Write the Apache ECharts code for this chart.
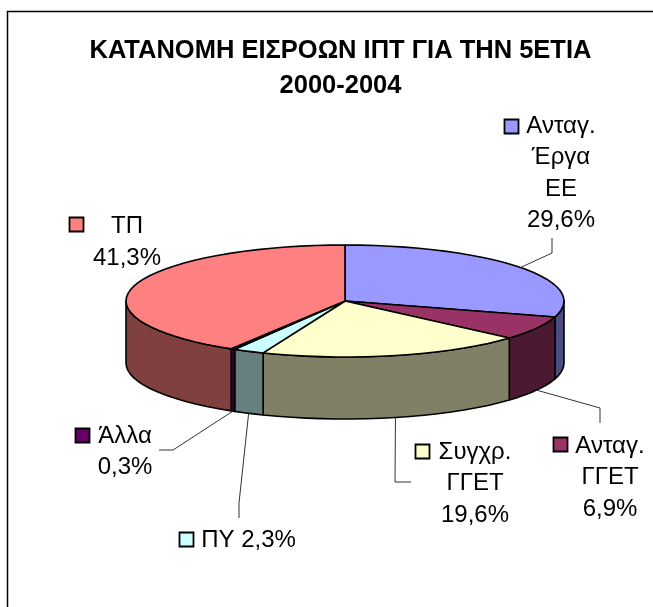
<!DOCTYPE html>
<html>
<head>
<meta charset="utf-8">
<style>html,body{margin:0;padding:0;background:#fff}#c{width:653px;height:607px}</style>
<script src="https://cdn.jsdelivr.net/npm/echarts@6/dist/echarts.min.js"></script>
</head>
<body>
<div id="c"></div>
<script>
// DATA
const categories = ['Ανταγ.\nΈργα\nΕΕ', 'Ανταγ.\nΓΓΕΤ', 'Συγχρ.\nΓΓΕΤ', 'ΠΥ', 'Άλλα', 'ΤΠ'];
const percents = [29.6, 6.9, 19.6, 2.3, 0.3, 41.3];
const separators = ['\n', '\n', '\n', ' ', '\n', '\n'];
const chartTitle = 'ΚΑΤΑΝΟΜΗ ΕΙΣΡΟΩΝ ΙΠΤ ΓΙΑ ΤΗΝ 5ΕΤΙΑ\n2000-2004';

// STYLE
const topColors = ['#9999FF', '#993366', '#FFFFCC', '#CCFFFF', '#660066', '#FF8080'];
const sideColors = ['#4C4C80', '#4C1933', '#808066', '#668080', '#330033', '#804040'];

// LAYOUT
const pie = { cx: 345, cy: 301, rx: 219, ry: 56, depth: 62 };
const labelCenters = [[561, 173.5], [610, 477.5], [475, 483.5], [248.5, 540], [125, 452], [127, 242.5]];
const keyBoxes = [[504, 119], [553, 437], [415, 444], [179, 532], [75, 428], [69, 217]];
const leaderBends = [
  [[552, 253], [552, 238]],
  [[600, 408], [600, 423]],
  [[395, 482], [411, 482]],
  [[239, 503], [239, 518]],
  [[173, 450], [159, 450]],
  []
];

const total = percents.reduce((a, b) => a + b, 0);
let running = 0;
const sliceRows = percents.map((p, i) => {
  const start = running / total * 360;
  running += p;
  return [start, running / total * 360, i];
});

function rimPoint(deg, drop) {
  const t = deg * Math.PI / 180;
  return [pie.cx + pie.rx * Math.sin(t), pie.cy - pie.ry * Math.cos(t) + drop];
}
function arc(a, b, drop) {
  const pts = [];
  const n = Math.max(1, Math.ceil((b - a) / 4));
  for (let k = 0; k <= n; k++) pts.push(rimPoint(a + (b - a) * k / n, drop));
  return pts;
}
const edge = { stroke: '#000', lineWidth: 1.6, lineJoin: 'round' };

function renderSide(params, api) {
  const a = Math.max(api.value(0), 90), b = Math.min(api.value(1), 270), i = api.value(2);
  if (b <= a) return { type: 'group', children: [] };
  const pts = arc(a, b, 0).concat(arc(a, b, pie.depth).reverse());
  return { type: 'polygon', shape: { points: pts }, style: Object.assign({ fill: sideColors[i] }, edge) };
}
function renderTop(params, api) {
  const a = api.value(0), b = api.value(1), i = api.value(2);
  const pts = [[pie.cx, pie.cy]].concat(arc(a, b, 0));
  return { type: 'polygon', shape: { points: pts }, style: Object.assign({ fill: topColors[i] }, edge) };
}
function renderLabel(params, api) {
  const a = api.value(0), b = api.value(1), i = api.value(2);
  const mid = (a + b) / 2;
  const front = mid > 90 && mid < 270;
  const children = [];
  if (leaderBends[i].length) {
    children.push({
      type: 'polyline',
      shape: { points: [rimPoint(mid, front ? pie.depth : 0)].concat(leaderBends[i]) },
      style: { stroke: '#333', lineWidth: 1, fill: null }
    });
  }
  children.push({
    type: 'rect',
    shape: { x: keyBoxes[i][0] + 0.5, y: keyBoxes[i][1] + 0.5, width: 14, height: 14 },
    style: { fill: topColors[i], stroke: '#000', lineWidth: 1.8 }
  });
  children.push({
    type: 'text',
    style: {
      x: labelCenters[i][0], y: labelCenters[i][1],
      text: categories[i] + separators[i] + percents[i].toFixed(1).replace('.', ',') + '%',
      font: '24px "Liberation Sans", Arial, sans-serif',
      lineHeight: 31.5, align: 'center', verticalAlign: 'middle', fill: '#000'
    }
  });
  return { type: 'group', children };
}

const chart = echarts.init(document.getElementById('c'), null, { renderer: 'canvas' });
chart.setOption({
  animation: false,
  backgroundColor: '#fff',
  title: {
    text: chartTitle, left: 335.5, top: 28, textAlign: 'center',
    textStyle: { fontFamily: '"Liberation Sans", Arial, sans-serif', fontWeight: 'bold', fontSize: 25.5, lineHeight: 35, color: '#000' }
  },
  graphic: [{
    type: 'polyline', silent: true,
    shape: { points: [[7.5, 607], [7.5, 11.5], [653, 11.5]] },
    style: { stroke: '#000', lineWidth: 1.5, fill: null }
  }],
  series: [
    { type: 'custom', coordinateSystem: 'none', z: 2, silent: true, renderItem: renderSide, data: sliceRows },
    { type: 'custom', coordinateSystem: 'none', z: 3, silent: true, renderItem: renderTop, data: sliceRows },
    { type: 'custom', coordinateSystem: 'none', z: 4, silent: true, renderItem: renderLabel, data: sliceRows }
  ]
});
</script>
</body>
</html>
